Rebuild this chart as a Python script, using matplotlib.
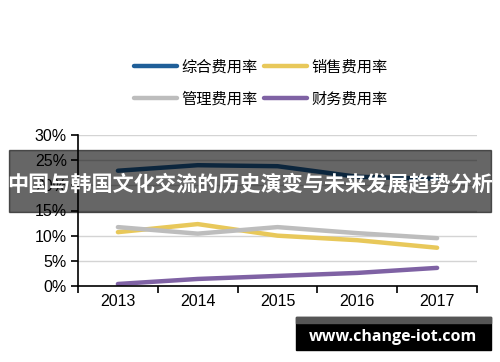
import matplotlib
matplotlib.use("Agg")
from matplotlib import pyplot as plt
from matplotlib.patches import Rectangle
import numpy as np

plt.rcParams['font.family'] = ['Liberation Sans', 'Noto Sans CJK SC', 'DejaVu Sans']

years = ['2013', '2014', '2015', '2016', '2017']
series_names = ['综合费用率', '销售费用率', '管理费用率', '财务费用率']
total_rate = [22.9, 24.0, 23.8, 21.7, 21.3]
sales_rate = [10.7, 12.3, 10.0, 9.1, 7.6]
admin_rate = [11.7, 10.4, 11.7, 10.5, 9.5]
finance_rate = [0.4, 1.4, 2.0, 2.6, 3.6]
colors = ['#1f5f99', '#e8c85a', '#bdbdbd', '#7f62a4']

W, H = 500, 362
fig = plt.figure(figsize=(W / 100, H / 100), dpi=100)
ax = fig.add_axes([78 / W, 1 - 286 / H, (477 - 78) / W, (286 - 135) / H])

x = np.arange(len(years))
handles = []
for vals, name, c in zip([total_rate, sales_rate, admin_rate, finance_rate], series_names, colors):
    h, = ax.plot(x, vals, color=c, lw=3.2, label=name, solid_capstyle='round')
    handles.append(h)

ax.set_xlim(-0.5, 4.5)
ax.set_ylim(0, 30)
ax.set_yticks(np.arange(0, 31, 5))
ax.set_yticklabels([f'{v}%' for v in range(0, 31, 5)], fontsize=11.5)
ax.yaxis.grid(True, color='#d4d4d4', lw=1)
ax.set_axisbelow(True)
ax.set_xticks(np.arange(-0.5, 5, 1))
ax.set_xticklabels([])
ax.set_xticks(x, minor=True)
ax.set_xticklabels(years, minor=True, fontsize=11.5)
ax.tick_params(axis='x', which='minor', length=0, pad=6)
ax.tick_params(axis='x', which='major', length=5, width=1.2, direction='out')
ax.tick_params(axis='y', length=5, width=1.2, direction='out', pad=3)
for s in ['top', 'right']:
    ax.spines[s].set_visible(False)
for s in ['left', 'bottom']:
    ax.spines[s].set_linewidth(1.2)

# legend fills column-wise, so order handles to get rows: 综合 销售 / 管理 财务
order = [0, 2, 1, 3]
fig.legend(handles=[handles[i] for i in order], loc='center', bbox_to_anchor=(0.522, 1 - 83 / H),
           ncol=2, frameon=False, handlelength=2.8, columnspacing=0.4,
           labelspacing=1.0, handletextpad=0.3,
           prop={'family': 'Noto Sans CJK SC', 'size': 11})

# overlay banner
fig.patches.append(Rectangle((9 / W, 1 - 212 / H), (491 - 9) / W, 62 / H,
                             transform=fig.transFigure, color='black', alpha=0.6, zorder=5))
fig.text(250 / W, 1 - 184 / H, '中国与韩国文化交流的历史演变与未来发展趋势分析',
         ha='center', va='center', color='white', fontsize=15.2, fontweight='bold',
         family=['Noto Sans CJK SC'], zorder=6)

# watermark
fig.patches.append(Rectangle((296 / W, 1 - 350 / H), 195 / W, 33 / H,
                             transform=fig.transFigure, color='black', zorder=5))
fig.patches.append(Rectangle((296 / W, 1 - 323 / H), 195 / W, 6 / H,
                             transform=fig.transFigure, color='#555555', zorder=6))
fig.text(393 / W, 1 - 337 / H, 'www.change-iot.com', ha='center', va='center',
         color='white', fontsize=11.5, fontweight='bold', family=['Open Sans'], zorder=7)

fig.savefig('out.png', dpi=100)
